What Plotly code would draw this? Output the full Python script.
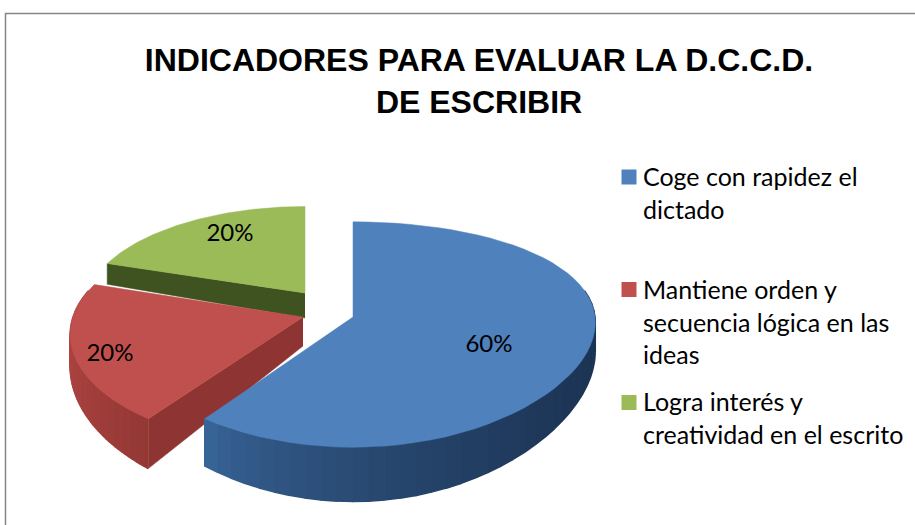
import numpy as np
import plotly.graph_objects as go

categories = ["Coge con rapidez el<br>dictado",
              "Mantiene orden y<br>secuencia lógica en las<br>ideas",
              "Logra interés y<br>creatividad en el escrito"]
values = [60, 20, 20]
title_text = "INDICADORES PARA EVALUAR LA D.C.C.D.<br>DE ESCRIBIR"

top_colors = ["#4F81BD", "#C0504D", "#9BBB59"]
wall_left = [(58, 104, 156), (172, 68, 65), (63, 83, 32)]
wall_right = [(28, 52, 84), (148, 56, 53), (63, 83, 32)]
cut_wall = [None, "#8E3533", "#3F5320"]
apex = [(353, 317), (303, 317), (305, 293)]
label_pos = [(489, 346), (110, 355), (230, 235)]
legend_y = [177, 289.5, 402.5]
legend_text_y = [159, 272, 384]

# per-slice geometry: horizontal radius, vertical radius, x and y perspective, wall height
RX = [242, 230, 218]
RY = [110, 110, 100]
KX = [0.05, 0.156, 0.156]
KY = [0.156, 0.156, 0.156]
H = [27.5, 29, 25]


def project(i, theta):
    cx, cy = apex[i]
    u, v = np.sin(theta), np.cos(theta)
    sx = 1 / (1 + KX[i] * v)
    sy = 1 / (1 + KY[i] * v)
    return cx + RX[i] * u * sx, cy - RY[i] * v * sy, H[i] * sy ** 4


def rgb(c):
    return "rgb(%d,%d,%d)" % tuple(int(round(x)) for x in c)


fig = go.Figure()


def poly(xs, ys, color, lw=0.5):
    fig.add_trace(go.Scatter(x=list(xs), y=list(ys), mode="lines", fill="toself",
                             fillcolor=color, line=dict(color=color, width=lw),
                             hoverinfo="skip", showlegend=False))


edges = np.concatenate([[0], np.cumsum(values)]) / sum(values) * 2 * np.pi
for i in [2, 1, 0]:
    cx, cy = apex[i]
    a0, a1 = edges[i], edges[i + 1]
    # cut face along the leading radial edge
    if cut_wall[i]:
        ex, ey, eh = project(i, a0)
        _, _, h0 = project(i, np.pi / 2)
        poly([cx, ex, ex, cx], [cy, ey, ey + eh, cy + h0], cut_wall[i])
    # outer wall, drawn as small quads for the shading
    n = 60
    th = np.linspace(a0, a1, n + 1)
    px, py, ph = project(i, th)
    xmin, xmax = px.min(), px.max()
    for j in range(n):
        if np.cos((th[j] + th[j + 1]) / 2) > 0.25:
            continue
        t = (((px[j] + px[j + 1]) / 2 - xmin) / max(xmax - xmin, 1)) ** 0.6
        col = [wall_left[i][k] + (wall_right[i][k] - wall_left[i][k]) * t for k in range(3)]
        poly([px[j], px[j + 1], px[j + 1], px[j]],
             [py[j], py[j + 1], py[j + 1] + ph[j + 1], py[j] + ph[j]], rgb(col), lw=1.5)
    # top face
    poly(np.concatenate([[cx], px, [cx]]), np.concatenate([[cy], py, [cy]]), top_colors[i])

# data labels
fig.add_trace(go.Scatter(x=[p[0] for p in label_pos], y=[p[1] for p in label_pos],
                         mode="text", text=["%d%%" % v for v in values],
                         textfont=dict(family="Lato", size=24, color="#000000"),
                         hoverinfo="skip", showlegend=False))
# legend swatches
fig.add_trace(go.Scatter(x=[629] * 3, y=legend_y, mode="markers",
                         marker=dict(symbol="square", size=15, color=top_colors, line=dict(width=0)),
                         hoverinfo="skip", showlegend=False))

annotations = [dict(x=641, y=yy, xref="x", yref="y", text=t, showarrow=False, xanchor="left",
                    yanchor="top", align="left",
                    font=dict(family="Lato", size=25, color="#000000"))
               for t, yy in zip(categories, legend_text_y)]

fig.update_layout(
    width=915, height=525, margin=dict(l=0, r=0, t=0, b=0),
    paper_bgcolor="white", plot_bgcolor="white", showlegend=False,
    title=dict(text=title_text, x=479 / 915, xanchor="center", y=1 - 71 / 525, yanchor="top",
               font=dict(family="Liberation Sans", size=32, color="#000000", weight="bold")),
    xaxis=dict(range=[0, 915], visible=False, fixedrange=True),
    yaxis=dict(range=[525, 0], visible=False, fixedrange=True),
    annotations=annotations,
    shapes=[dict(type="path", path="M 5.5 525 L 5.5 13.5 L 915 13.5", xref="x", yref="y",
                 line=dict(color="#868686", width=1.5))],
)
fig.write_html("out.html", config=dict(displayModeBar=False),
               post_script="document.body.style.margin='0';document.body.style.overflow='hidden';")
